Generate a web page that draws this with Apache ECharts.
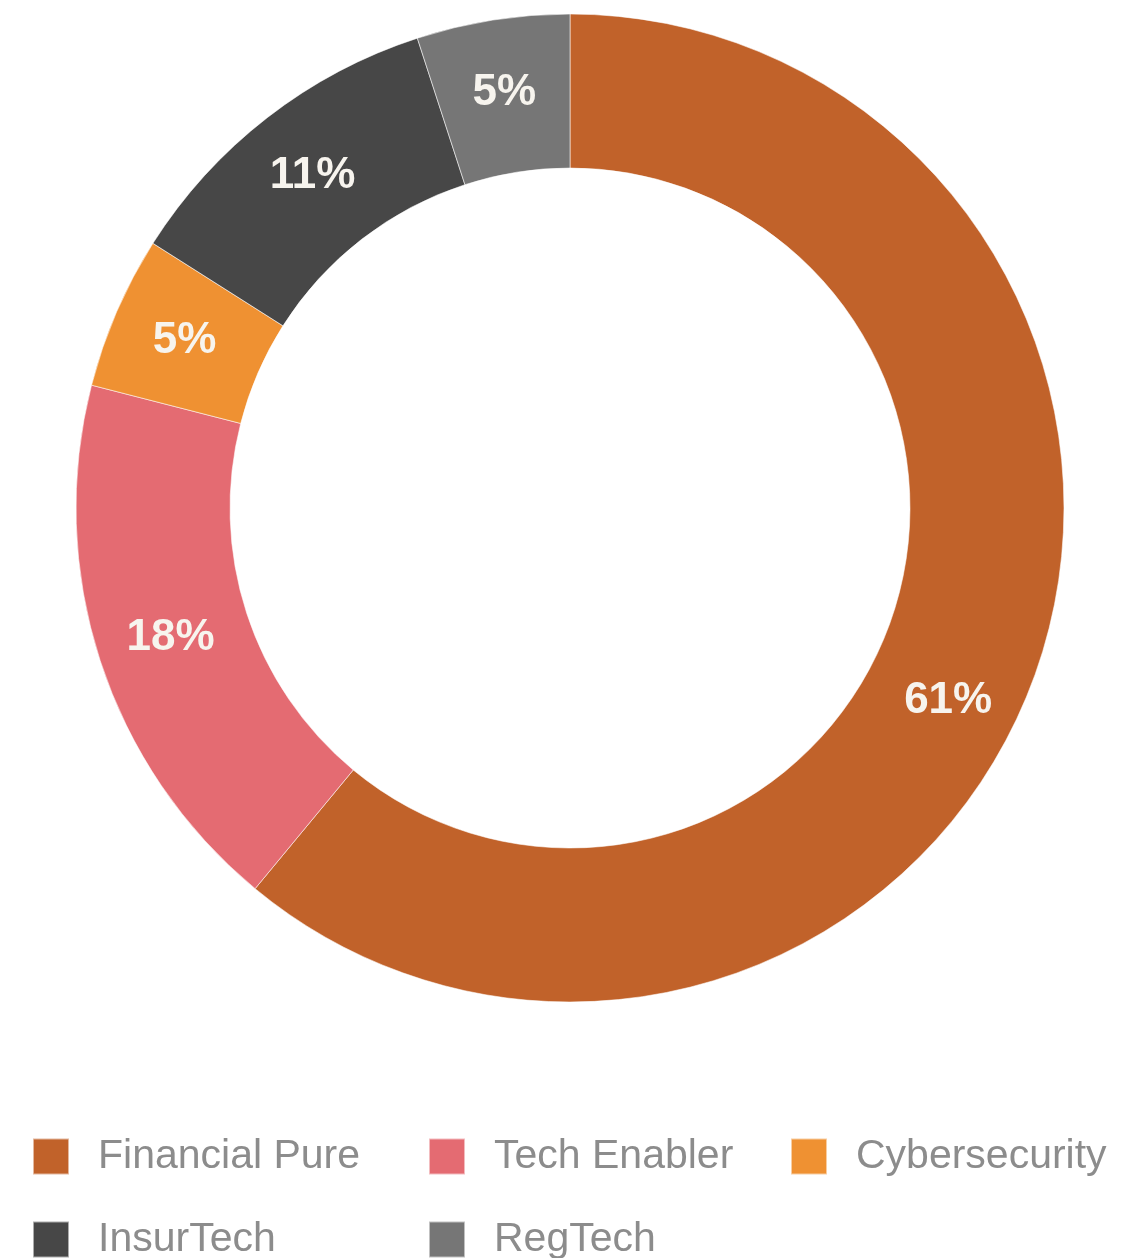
<!DOCTYPE html>
<html>
<head>
<meta charset="utf-8">
<title>Segment share</title>
<script src="https://cdn.jsdelivr.net/npm/echarts@6/dist/echarts.min.js"></script>
<style>
  html, body { margin: 0; padding: 0; background: #ffffff; }
  #chart { width: 1130px; height: 1258px; }
</style>
</head>
<body>
<div id="chart"></div>
<script>
// Segments, clockwise from twelve o'clock
const categories = ['Financial Pure', 'Tech Enabler', 'Cybersecurity', 'InsurTech', 'RegTech'];
const shares = [61, 18, 5, 11, 5];
const colors = ['#c1622a', '#e46b72', '#ef9132', '#474747', '#767676'];

// Legend grid: column and row of each entry
const legendCol = [0, 1, 2, 0, 1];
const legendRow = [0, 0, 0, 1, 1];
const columnLefts = [32, 428, 790];
const rowTops = [1136, 1219];

const font = '"Liberation Sans", Arial, Helvetica, sans-serif';

const chart = echarts.init(document.getElementById('chart'), null, { renderer: 'canvas' });

const data = categories.map((name, i) => ({
  name: name,
  value: shares[i],
  itemStyle: { color: colors[i] }
}));

// one legend block per entry so the entries line up in columns
const legends = categories.map((name, i) => ({
  data: [name],
  left: columnLefts[legendCol[i]],
  top: rowTops[legendRow[i]],
  padding: 0,
  icon: 'rect',
  itemWidth: 36,
  itemHeight: 36,
  selectedMode: false,
  textStyle: {
    fontFamily: font,
    fontSize: 41,
    lineHeight: 38,
    color: '#8c8c8c',
    padding: [0, 0, 0, 24]
  }
}));

chart.setOption({
  animation: false,
  backgroundColor: '#ffffff',
  legend: legends,
  series: [{
    type: 'pie',
    center: [570, 508],
    radius: [340, 494],
    startAngle: 90,
    clockwise: true,
    avoidLabelOverlap: false,
    data: data,
    itemStyle: {
      borderColor: 'rgba(255,255,255,0.55)',
      borderWidth: 1
    },
    label: {
      show: true,
      position: 'inside',
      formatter: '{c}%',
      color: '#f7f4ee',
      fontFamily: font,
      fontWeight: 'bold',
      fontSize: 44
    },
    labelLine: { show: false },
    labelLayout: function (params) {
      // the large segment's label sits a little lower along the ring
      if (params.dataIndex === 0) {
        return { dx: -17, dy: 51 };
      }
      return {};
    },
    emphasis: { disabled: true }
  }]
});
</script>
</body>
</html>
